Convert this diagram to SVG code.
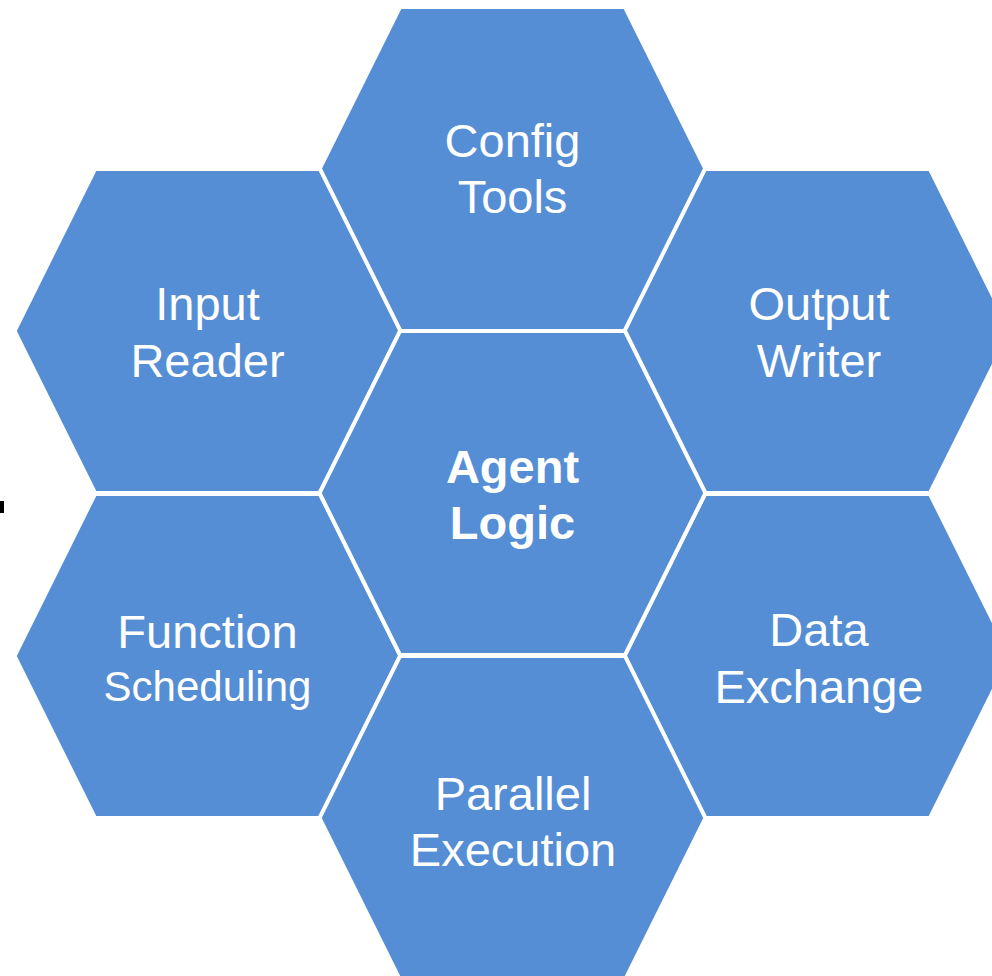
<svg xmlns="http://www.w3.org/2000/svg" width="992" height="976" viewBox="0 0 992 976">
<defs>
<style>
.hex{fill:#558ED5;stroke:#FFFFFF;stroke-width:4;stroke-linejoin:miter}
.t{font-family:"Liberation Sans",Arial,sans-serif;font-size:47px;fill:#FFFFFF;text-anchor:middle}
.s{font-size:42px}
.b{font-weight:bold}
</style>
<polygon id="hexshape" points="-112.5,-162 112.5,-162 193,0 112.5,162 -112.5,162 -193,0"/>
</defs>
<rect width="992" height="976" fill="#FFFFFF"/>
<g id="connectors"></g>
<g id="config-tools">
<use href="#hexshape" class="hex" x="512.5" y="169"/>
<text class="t" x="512.5" y="157">Config</text>
<text class="t" x="512.5" y="213">Tools</text>
</g>
<g id="input-reader">
<use href="#hexshape" class="hex" x="207.5" y="331"/>
<text class="t" x="207.5" y="320">Input</text>
<text class="t" x="207.5" y="377">Reader</text>
</g>
<g id="output-writer">
<use href="#hexshape" class="hex" x="817.5" y="331"/>
<text class="t" x="819" y="320">Output</text>
<text class="t" x="819" y="377">Writer</text>
</g>
<g id="function-scheduling">
<use href="#hexshape" class="hex" x="207.5" y="656"/>
<text class="t" x="207.5" y="648">Function</text>
<text class="t s" x="207.5" y="701">Scheduling</text>
</g>
<g id="data-exchange">
<use href="#hexshape" class="hex" x="817.5" y="656"/>
<text class="t" x="819" y="646">Data</text>
<text class="t" x="819" y="703">Exchange</text>
</g>
<g id="parallel-execution">
<use href="#hexshape" class="hex" x="512.5" y="818"/>
<text class="t" x="513" y="810">Parallel</text>
<text class="t" x="513" y="866">Execution</text>
</g>
<g id="agent-logic">
<use href="#hexshape" class="hex" x="512.5" y="493"/>
<text class="t b" x="512.5" y="483">Agent</text>
<text class="t b" x="512.5" y="539">Logic</text>
</g>
<rect x="0" y="501" width="4" height="12" fill="#000000"/>
</svg>
